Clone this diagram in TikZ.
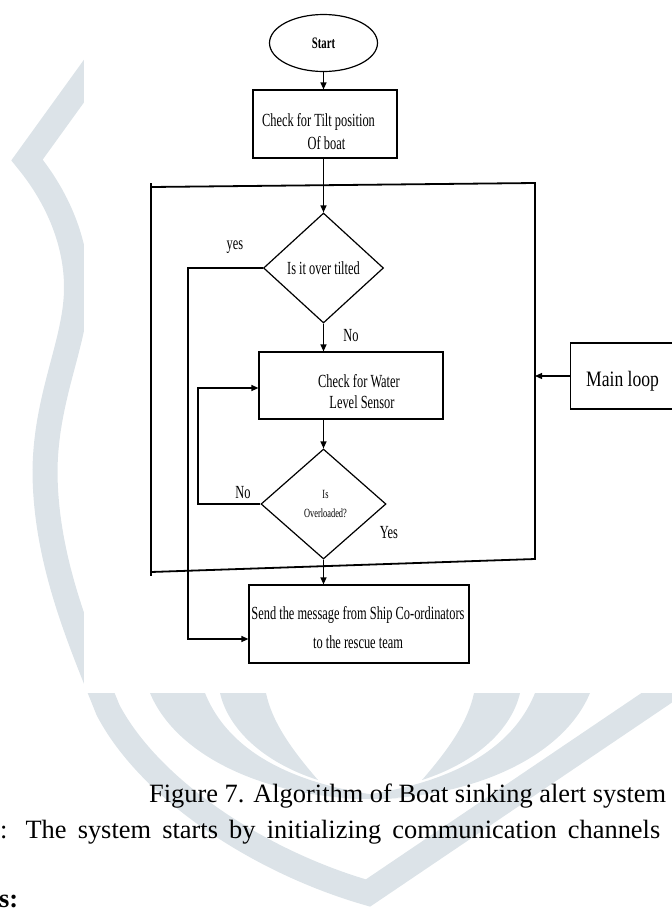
\documentclass[tikz,border=0pt]{standalone}
\usepackage{fontspec}
\setmainfont{Liberation Serif}
\newfontfamily\nar[FakeStretch=0.67]{Liberation Serif}
\newfontfamily\narm[FakeStretch=0.8]{Liberation Serif}
\usetikzlibrary{shapes.geometric,arrows.meta,calc}
\definecolor{wmc}{RGB}{220,227,232}
\begin{document}
\begin{tikzpicture}[x=1pt,y=-1pt,
  box/.style={draw,line width=1.2pt,rectangle,inner sep=0pt},
  dia/.style={draw,line width=1.2pt,diamond,inner sep=0pt,align=center},
  arr/.style={line width=1.2pt,-{Triangle[length=7pt,width=6pt]}},
  framel/.style={line width=1.8pt},
  txt/.style={inner sep=0pt,align=center,font=\nar\fontsize{18.5}{23}\selectfont},
  lbl/.style={inner sep=0pt,font=\nar\fontsize{18.5}{20}\selectfont},
  body/.style={inner sep=0pt,font=\fontsize{26.4}{30}\selectfont}]
\useasboundingbox (0,0) rectangle (672,911);
\clip (0,0) rectangle (672,911);
% watermark
\draw[wmc,line width=25pt,line join=miter] (110,45) -- (27,160)
  .. controls (60,200) and (80,250) .. (76,300)
  .. controls (72,350) and (46,400) .. (45,470)
  .. controls (45,560) and (80,640) .. (108,710)
  .. controls (150,790) and (260,862) .. (368,893) -- (720,655);
\fill[wmc] (150,693) .. controls (180,765) and (290,806) .. (400,798)
  .. controls (300,788) and (230,755) .. (205,693) -- cycle;
\fill[wmc] (590,693) .. controls (560,765) and (450,806) .. (340,798)
  .. controls (440,788) and (510,755) .. (535,693) -- cycle;
\fill[wmc] (220,693) .. controls (228,728) and (262,762) .. (318,780)
  .. controls (292,750) and (272,722) .. (266,693) -- cycle;
\fill[wmc] (520,693) .. controls (512,728) and (478,762) .. (422,780)
  .. controls (448,750) and (468,722) .. (474,693) -- cycle;
\fill[white] (84,0) rectangle (672,693);
% nodes
\node[ellipse,draw,line width=1.2pt,minimum width=108pt,minimum height=57pt,inner sep=0pt,
  font=\nar\bfseries\fontsize{16}{18}\selectfont] (start) at (323.5,43) {Start};
\node[box,minimum width=144pt,minimum height=68pt] (tilt) at (325,124) {};
\node[txt] (tiltt) at (318.5,131.5) {Check for Tilt position\\\hspace*{16pt}Of boat};
\node[dia,font=\nar\fontsize{18.5}{23}\selectfont,minimum width=120pt,minimum height=110pt] (d1) at (323.5,268) {Is it over tilted};
\node[box,minimum width=184pt,minimum height=67pt] (water) at (351,385.5) {};
\node[txt,font=\nar\fontsize{18.5}{21}\selectfont] (watert) at (359,391.5) {Check for Water\\\hspace*{6pt}Level Sensor};
\node[dia,minimum width=125pt,minimum height=110pt,font=\nar\fontsize{12.5}{19}\selectfont] (d2) at (323.5,504)
  {\hspace*{4pt}Is\\\hspace*{4pt}Overloaded?};
\node[box,minimum width=220pt,minimum height=78pt] (send) at (359,624) {};
\node[txt,font=\nar\fontsize{18.5}{29}\selectfont] (sendt) at (358,628)
  {Send the message from Ship Co-ordinators\\to the rescue team};
\node[box,anchor=west,minimum height=66pt,minimum width=140pt] (main) at (570,376) {};
\node[inner sep=0pt,anchor=west,font=\narm\fontsize{22}{24}\selectfont] (mainl) at (586,381) {Main loop};
% main loop frame
\coordinate (ftl) at (151,187);
\coordinate (ftr) at (535,183);
\coordinate (fbr) at (535,559);
\coordinate (fbl) at (151,572);
\draw[framel] (151,183) -- (151,576);
\draw[framel] (ftl) -- (ftr) -- (fbr) -- (fbl);
% connectors
\draw[arr] (start.south) -- (start.south |- tilt.north);
\draw[arr] (d1.north |- tilt.south) -- (d1.north);
\draw[arr] (d1.south) -- (d1.south |- water.north);
\draw[arr] (d2.north |- water.south) -- (d2.north);
\draw[arr] (d2.south) -- (d2.south |- send.north);
\coordinate (yb) at (188,639);
\draw[arr] (d1.west) -| (yb) -- (yb -| send.west);
\coordinate (nb) at (198,388);
\draw[arr] (d2.west) -| (nb) -- (nb -| water.west);
\draw[arr] (main.west) -- (main.west -| ftr);
% labels
\node[lbl] (lyes) at (235,247) {yes};
\node[lbl] (lno1) at (351,336) {No};
\node[lbl] (lno2) at (243,493) {No};
\node[lbl] (lyes2) at (389,533) {Yes};
% text below
\node[body,anchor=base west] (cap) at (149,802) {Figure 7. Algorithm of Boat sinking alert system};
\node[body,anchor=base west] (para) at (0,838) {\makebox[660pt][s]{: The system starts by initializing communication channels}};
\node[body,anchor=base west,font=\bfseries\fontsize{26.4}{30}\selectfont] (sect) at (-1,907) {s:};
\end{tikzpicture}
\end{document}
